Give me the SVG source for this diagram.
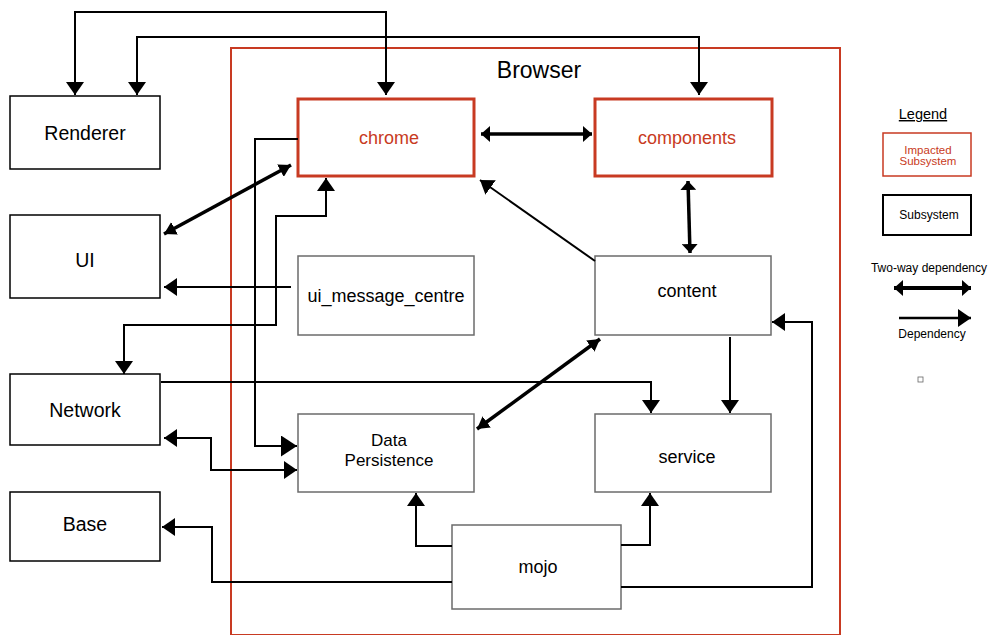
<svg xmlns="http://www.w3.org/2000/svg" width="990" height="635" viewBox="0 0 990 635">
<style>
text{font-family:"Liberation Sans",Arial,sans-serif;text-anchor:middle;fill:#000}
.red{fill:#c83a22}
.box{fill:#fff;stroke:#000;stroke-width:1.5}
.gbox{fill:#fff;stroke:#6b6b6b;stroke-width:1.5}
.rbox{fill:#fff;stroke:#c83a22;stroke-width:3}
.c{fill:none;stroke:#000;stroke-width:2}
.t{fill:none;stroke:#000;stroke-width:3.5}
</style>
<defs>
<marker id="arr" viewBox="0 0 13 18" refX="13" refY="9" markerWidth="13" markerHeight="18" markerUnits="userSpaceOnUse" orient="auto-start-reverse"><path d="M0,0 L13,9 L0,18 z" fill="#000"/></marker>
<marker id="arrL" viewBox="0 0 16 21" refX="16" refY="10.5" markerWidth="16" markerHeight="21" markerUnits="userSpaceOnUse" orient="auto-start-reverse"><path d="M0,0 L16,10.5 L0,21 z" fill="#000"/></marker>
<marker id="tw" viewBox="0 0 9 16" refX="9" refY="8" markerWidth="9" markerHeight="16" markerUnits="userSpaceOnUse" orient="auto-start-reverse"><path d="M0,0 L9,8 L0,16 z" fill="#000"/></marker>
<marker id="tw2" viewBox="0 0 12 14" refX="12" refY="7" markerWidth="12" markerHeight="14" markerUnits="userSpaceOnUse" orient="auto-start-reverse"><path d="M0,0 L12,7 L0,14 z" fill="#000"/></marker>
</defs>
<rect width="990" height="635" fill="#fff"/>

<g id="browser">
<rect x="231" y="48" width="609" height="587" fill="none" stroke="#c83a22" stroke-width="2"/>
<text x="539" y="78" font-size="23">Browser</text>
</g>

<g id="renderer"><rect class="box" x="10" y="96" width="150" height="73"/><text x="85" y="140" font-size="19.5">Renderer</text></g>
<g id="ui"><rect class="box" x="10" y="215" width="150" height="83"/><text x="85" y="267" font-size="19.5">UI</text></g>
<g id="network"><rect class="box" x="10" y="374" width="150" height="71"/><text x="85" y="417" font-size="19.5">Network</text></g>
<g id="base"><rect class="box" x="10" y="492" width="150" height="69"/><text x="85" y="531" font-size="19.5">Base</text></g>

<g id="chrome"><rect class="rbox" x="298" y="99" width="176" height="77"/><text class="red" x="389" y="144" font-size="18">chrome</text></g>
<g id="components"><rect class="rbox" x="595" y="99" width="177" height="77"/><text class="red" x="687" y="144" font-size="18">components</text></g>
<g id="ui_message_centre"><rect class="gbox" x="298" y="256" width="176" height="79"/><text x="386" y="302" font-size="18">ui_message_centre</text></g>
<g id="content"><rect class="gbox" x="595" y="256" width="176" height="79"/><text x="687" y="297" font-size="18">content</text></g>
<g id="data_persistence"><rect class="gbox" x="298" y="414" width="176" height="78"/><text x="389" y="446" font-size="17">Data</text><text x="389" y="466" font-size="17">Persistence</text></g>
<g id="service"><rect class="gbox" x="595" y="414" width="176" height="78"/><text x="687" y="463" font-size="18">service</text></g>
<g id="mojo"><rect class="gbox" x="452" y="525" width="169" height="84"/><text x="538" y="573" font-size="18">mojo</text></g>

<g id="connectors">
<path class="c" d="M75,95 V12 H386 V95" marker-start="url(#arr)" marker-end="url(#arr)"/>
<path class="c" d="M137,95 V37 H699 V95" marker-start="url(#arr)" marker-end="url(#arr)"/>
<path class="t" d="M481,134 H592" marker-start="url(#tw)" marker-end="url(#tw)"/>
<path class="t" d="M688,181 L690,253" marker-start="url(#tw)" marker-end="url(#tw)"/>
<path class="c" d="M595,261 L480,180" marker-end="url(#arr)"/>
<path class="t" d="M164,234 L291,165" marker-start="url(#tw2)" marker-end="url(#tw2)"/>
<path class="c" d="M291,287 H164" marker-end="url(#arr)" stroke-width="2.5"/>
<path class="c" d="M298,139 H255 V446 H297" marker-end="url(#arrL)"/>
<path class="c" d="M326,178 V216 H276 V325 H124 V374" marker-start="url(#arr)" marker-end="url(#arr)"/>
<path class="c" d="M161,382 H651 V413" marker-end="url(#arr)" stroke-width="1.5"/>
<path class="c" d="M164,438 H211 V470 H297" marker-start="url(#arr)" marker-end="url(#arr)"/>
<path class="t" d="M477,429 L600,339" marker-start="url(#tw2)" marker-end="url(#tw2)"/>
<path class="c" d="M730,337 V413" marker-end="url(#arr)" stroke-width="2.5"/>
<path class="c" d="M621,587 H812 V322 H772" marker-end="url(#arr)" stroke-width="2.5"/>
<path class="c" d="M621,545 H650 V493" marker-end="url(#arr)" stroke-width="2.5"/>
<path class="c" d="M452,546 H416 V493" marker-end="url(#arr)" stroke-width="2.5"/>
<path class="c" d="M452,582 H212 V527 H162" marker-end="url(#arr)" stroke-width="2.5"/>
</g>

<g id="legend">
<text x="923" y="119" font-size="14.5" text-decoration="underline">Legend</text>
<rect x="883" y="133" width="88" height="43" fill="#fff" stroke="#c83a22" stroke-width="1.5"/>
<text class="red" x="928" y="154" font-size="11.5">Impacted</text>
<text class="red" x="928" y="165" font-size="11.5">Subsystem</text>
<rect x="883" y="195" width="88" height="40" fill="#fff" stroke="#000" stroke-width="2"/>
<text x="929" y="219" font-size="12">Subsystem</text>
<text x="929" y="272" font-size="12">Two-way dependency</text>
<path d="M894,288 H971" fill="none" stroke="#000" stroke-width="4" marker-start="url(#tw)" marker-end="url(#tw)"/>
<path d="M899,318 H971" fill="none" stroke="#000" stroke-width="2.5" marker-end="url(#arr)"/>
<text x="932" y="338" font-size="12">Dependency</text>
<rect x="918" y="377" width="5" height="5" fill="#fff" stroke="#666" stroke-width="0.8"/>
</g>
</svg>
